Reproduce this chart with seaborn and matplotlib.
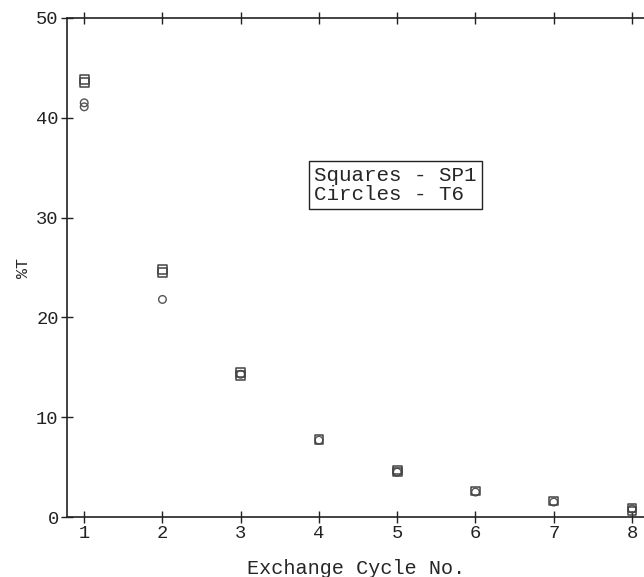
import matplotlib
matplotlib.use("Agg")
import matplotlib.pyplot as plt
import seaborn as sns
import pandas as pd

sp1_x = [1, 1, 2, 2, 3, 3, 4, 5, 5, 6, 7, 8, 8]
sp1_y = [43.8, 43.5, 24.8, 24.5, 14.5, 14.2, 7.8, 4.7, 4.5, 2.6, 1.6, 0.9, 0.6]
t6_x = [1, 1, 2, 3, 4, 5, 6, 7, 8]
t6_y = [41.5, 41.1, 21.8, 14.3, 7.7, 4.5, 2.5, 1.5, 0.8]
x_ticks = [1, 2, 3, 4, 5, 6, 7, 8]
y_ticks = [0, 10, 20, 30, 40, 50]

sp1 = pd.DataFrame({"cycle": sp1_x, "T": sp1_y})
t6 = pd.DataFrame({"cycle": t6_x, "T": t6_y})

sns.set_style("white")
plt.rcParams['font.family'] = ['Liberation Mono', 'DejaVu Sans Mono']

fig = plt.figure(figsize=(6.44, 5.77), dpi=100)
ax = fig.add_axes([67/644, 60/577, 1 - 67/644 + 0.002, (517-18)/577])

sns.scatterplot(data=t6, x="cycle", y="T", ax=ax, marker="o", s=30,
                facecolor="none", edgecolor="#555555", linewidth=1.0)
sns.scatterplot(data=sp1, x="cycle", y="T", ax=ax, marker="s", s=40,
                facecolor="none", edgecolor="#444444", linewidth=1.1)

ax.set_xlim(0.78, 8.17)
ax.set_ylim(0, 50)
ax.set_xticks(x_ticks)
ax.set_yticks(y_ticks)
ax.tick_params(axis="both", direction="inout", length=8, width=1.0,
               labelsize=13.5, colors="#222222", top=True, bottom=True, left=True)
ax.tick_params(axis="x", labeltop=False, pad=2)
ax.tick_params(axis="y", pad=2)
for s in ["left", "bottom", "top"]:
    ax.spines[s].set_visible(True)
    ax.spines[s].set_color("#222222")
    ax.spines[s].set_linewidth(1.2)
ax.spines["right"].set_visible(False)

ax.set_xlabel("Exchange Cycle No.", fontsize=14.5, labelpad=12)
ax.set_ylabel("%T", fontsize=12, labelpad=4)

ax.text(0.568, 0.665, "Squares - SP1\nCircles - T6", transform=ax.transAxes,
        fontsize=15, va="center", ha="center", multialignment="left",
        linespacing=1.0,
        bbox=dict(boxstyle="square,pad=0.25", facecolor="white",
                  edgecolor="#222222", linewidth=1.0))

fig.savefig("out.png", dpi=100)
